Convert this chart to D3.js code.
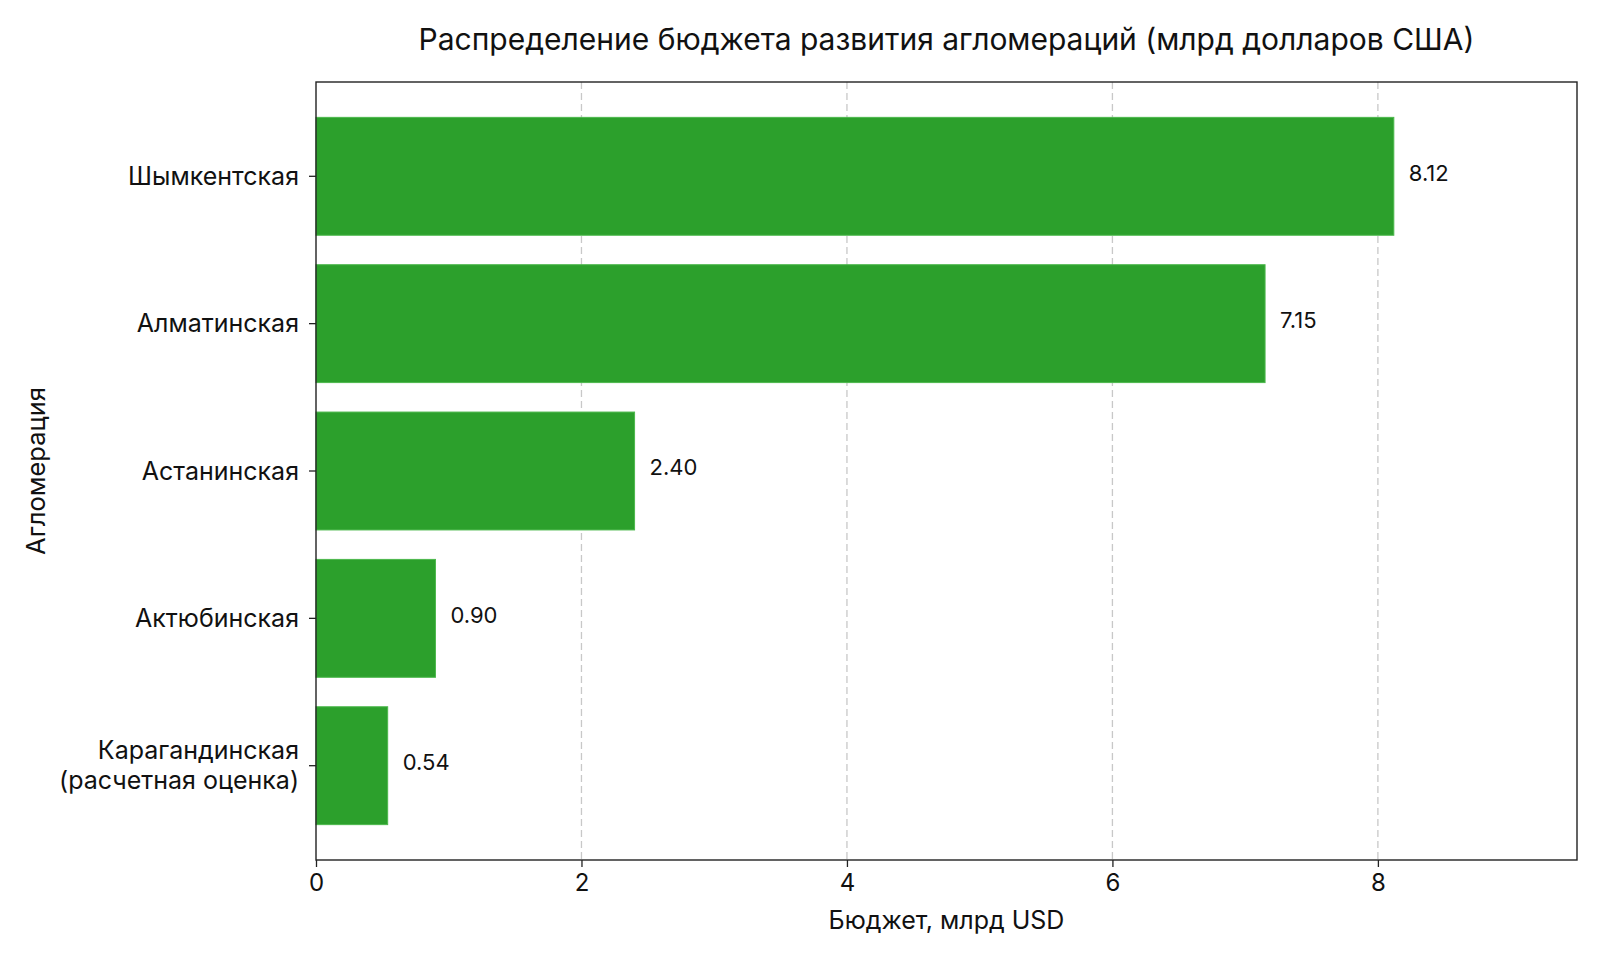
<!DOCTYPE html>
<html>
<head>
    <meta charset="utf-8">
    <script src="https://d3js.org/d3.v7.min.js"></script>
    <style>
        body { margin: 0; background: #fff; }
        text { font-family: Inter, Roboto, "Noto Sans", sans-serif; fill: #111; }
    </style>
</head>
<body>
    <svg width="1600" height="960"></svg>
    <script>
        // data
        var regions = ["Шымкентская", "Алматинская", "Астанинская", "Актюбинская", "Карагандинская\n(расчетная оценка)"];
        var budgets = [8.12, 7.15, 2.40, 0.90, 0.54];
        var xTicks = [0, 2, 4, 6, 8];

        var svg = d3.select("svg"),
            margin = {top: 82, right: 23, bottom: 100, left: 316},
            width = 1600 - margin.left - margin.right,
            height = 960 - margin.top - margin.bottom;

        var g = svg.append("g")
                   .attr("transform", "translate(" + margin.left + "," + margin.top + ")");

        var x = d3.scaleLinear().domain([0, 9.5]).range([0, width]);

        // bar index positions, bar height 0.8, 5% margins
        var n = regions.length;
        var lo = -0.4 - 0.05 * (n - 1 + 0.8), hi = n - 1 + 0.4 + 0.05 * (n - 1 + 0.8);
        var y = d3.scaleLinear().domain([lo, hi]).range([0, height]);

        // grid
        g.selectAll(".grid")
         .data(xTicks.filter(function(d) { return d > 0; }))
         .enter().append("line")
         .attr("x1", function(d) { return x(d); })
         .attr("x2", function(d) { return x(d); })
         .attr("y1", 0).attr("y2", height)
         .attr("stroke", "#c8c8c8")
         .attr("stroke-width", 1.3)
         .attr("stroke-dasharray", "7,4");

        // bars
        g.selectAll(".bar")
         .data(budgets)
         .enter().append("rect")
         .attr("x", x(0))
         .attr("y", function(d, i) { return y(i - 0.4); })
         .attr("width", function(d) { return x(d) - x(0); })
         .attr("height", y(0.8) - y(0))
         .attr("fill", "#2ca02c")
         .attr("stroke", "#4cb84c")
         .attr("stroke-width", 1);

        // value labels
        g.selectAll(".val")
         .data(budgets)
         .enter().append("text")
         .attr("x", function(d) { return x(d) + 15; })
         .attr("y", function(d, i) { return y(i); })
         .attr("dy", "0.2em")
         .style("font-size", "22px")
         .text(function(d) { return d.toFixed(2); });

        // frame
        g.append("rect")
         .attr("width", width).attr("height", height)
         .attr("fill", "none")
         .attr("stroke", "#222")
         .attr("stroke-width", 1.4);

        // x axis
        var xAxis = g.append("g")
         .attr("transform", "translate(0," + height + ")")
         .call(d3.axisBottom(x).tickValues(xTicks).tickSize(7).tickPadding(7).tickFormat(d3.format("d")));
        xAxis.select(".domain").remove();
        xAxis.selectAll("line").attr("stroke", "#222").attr("stroke-width", 1.3);
        xAxis.selectAll("text").style("font-size", "24px").attr("fill", "#111");

        // y axis
        var yAxis = g.append("g");
        regions.forEach(function(r, i) {
            var yy = y(i);
            yAxis.append("line")
                 .attr("x1", -7).attr("x2", 0)
                 .attr("y1", yy).attr("y2", yy)
                 .attr("stroke", "#222").attr("stroke-width", 1.3);
            var lines = r.split("\n");
            var t = yAxis.append("text")
                 .attr("text-anchor", "end")
                 .style("font-size", "25px");
            lines.forEach(function(l, j) {
                t.append("tspan")
                 .attr("x", -17)
                 .attr("y", yy + (j - (lines.length - 1) / 2) * 30)
                 .attr("dy", "0.35em")
                 .text(l);
            });
        });

        // titles
        svg.append("text")
           .attr("x", margin.left + width / 2)
           .attr("y", 39)
           .attr("dy", "0.35em")
           .attr("text-anchor", "middle")
           .style("font-size", "30px")
           .text("Распределение бюджета развития агломераций (млрд долларов США)");

        svg.append("text")
           .attr("x", margin.left + width / 2)
           .attr("y", 920)
           .attr("dy", "0.35em")
           .attr("text-anchor", "middle")
           .style("font-size", "25px")
           .text("Бюджет, млрд USD");

        svg.append("text")
           .attr("transform", "translate(36," + (margin.top + height / 2) + ") rotate(-90)")
           .attr("dy", "0.35em")
           .attr("text-anchor", "middle")
           .style("font-size", "25.5px")
           .text("Агломерация");
    </script>
</body>
</html>
